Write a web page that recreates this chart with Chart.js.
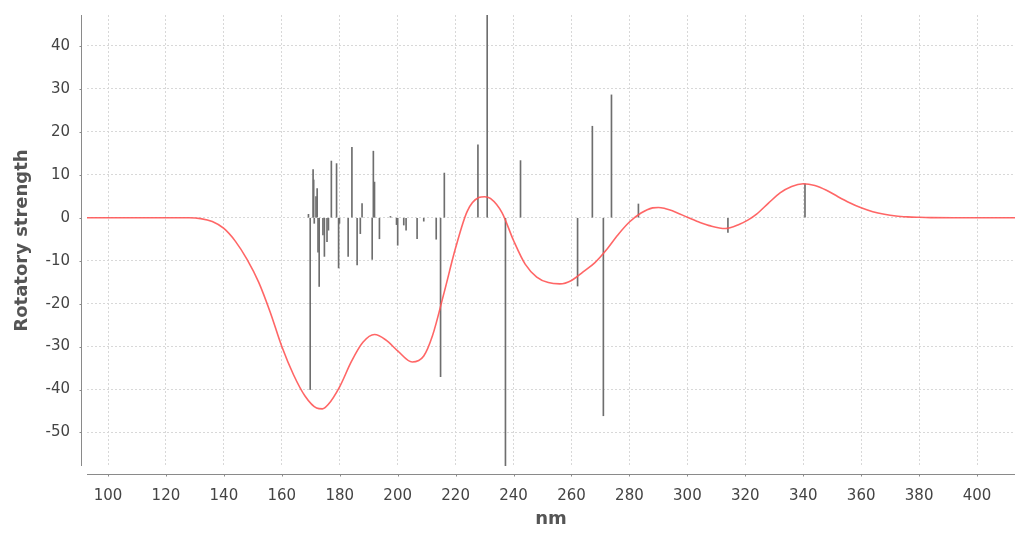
<!DOCTYPE html>
<html>
<head>
<meta charset="utf-8">
<title>Rotatory strength</title>
<script src="https://cdn.jsdelivr.net/npm/chart.js@4/dist/chart.umd.min.js"></script>
<style>
  html, body { margin: 0; padding: 0; background: #fff; }
  #wrap { width: 1015px; height: 534px; }
</style>
</head>
<body>
<div id="wrap"><canvas id="cd" width="1015" height="534"></canvas></div>
<script>
// stick spectrum: transition wavelength (nm) and rotatory strength
const stickNm = [
  169.2, 169.8, 170.8, 171.0, 171.2, 171.8, 172.2, 172.5, 172.9, 174.2,
  174.7, 175.6, 176.1, 177.1, 178.9, 179.6, 179.9, 182.9, 184.2, 186.0,
  187.1, 187.7, 191.2, 191.6, 192.0, 193.7, 197.5, 199.6, 200.0, 202.1,
  202.9, 206.7, 209.0, 213.3, 214.8, 216.1, 227.7, 230.9, 237.2, 242.4,
  262.1, 267.2, 271.0, 273.8, 283.1, 314.0, 340.6
];
const stickStrength = [
  0.8, -40.0, 11.2, 8.8, -1.3, 4.9, 6.8, -8.0, -16.0, -4.0,
  -9.0, -5.6, -2.9, 13.2, 12.6, -11.7, -1.3, -9.0, 16.4, -11.0,
  -3.7, 3.3, -9.7, 15.5, 8.3, -4.9, 0.3, -1.6, -6.4, -1.7,
  -2.9, -4.9, -0.8, -5.0, -37.0, 10.4, 17.0, 47.2, -57.8, 13.3,
  -15.9, 21.3, -46.1, 28.6, 3.2, -3.4, 7.9
];

// broadened spectrum
const curveNm = [
  92.7, 108, 120, 128, 132, 136, 140, 144, 148, 152,
  156, 160, 164, 168, 172, 174, 176, 180, 184, 188,
  192, 196, 200, 205, 209, 212, 216, 220, 224,
  228, 230, 232, 236, 240, 244, 248, 252, 256, 260,
  264, 268, 272, 276, 280, 284, 288, 290, 292, 296,
  300, 304, 308, 313, 318, 321, 324, 328, 332,
  336, 340, 344, 348, 352, 356, 360, 364, 368, 372,
  376, 380, 384, 392, 413.1
];
const curveVal = [
  0, 0, 0, 0, -0.2, -0.9, -2.5, -5.5, -9.7, -15,
  -22, -30, -36.5, -41.5, -44.3, -44.5, -43.5, -39.3, -33.5, -29,
  -27.2, -28.5, -31, -33.6, -32.2, -27.5, -17.5, -7, 1.5,
  4.7, 4.9, 4.5, 1.2, -5.3, -10.8, -13.8, -15.1, -15.4, -14.6,
  -12.6, -10.5, -7.5, -4.0, -1.0, 1.1, 2.3, 2.4, 2.2, 1.3,
  0.1, -1.0, -1.9, -2.5, -1.5, -0.5, 0.9, 3.4, 5.8,
  7.3, 7.9, 7.5, 6.4, 4.9, 3.5, 2.3, 1.4, 0.8, 0.4,
  0.2, 0.1, 0.03, 0, 0
];

// tick values
const xTicks = [100, 120, 140, 160, 180, 200, 220, 240, 260, 280, 300, 320, 340, 360, 380, 400];
const yTicks = [-50, -40, -30, -20, -10, 0, 10, 20, 30, 40];

const xMin = 92.75, xMax = 413.1;
const yMin = -57.8, yMax = 47.2;

Chart.defaults.font.family = '"DejaVu Sans", Verdana, sans-serif';

// JFreeChart-style axis lines, set a few pixels away from the plot
const axisLines = {
  id: 'axisLines',
  afterDraw(chart) {
    const { ctx, chartArea: a, scales } = chart;
    const xl = a.left - 5.5, yl = a.bottom + 8.5;
    ctx.save();
    ctx.strokeStyle = '#8a8a8a';
    ctx.lineWidth = 1;
    ctx.beginPath();
    ctx.moveTo(xl, a.top);
    ctx.lineTo(xl, a.bottom);
    ctx.moveTo(a.left, yl);
    ctx.lineTo(a.right, yl);
    scales.y.ticks.forEach(t => {
      const p = Math.round(scales.y.getPixelForValue(t.value)) + 0.5;
      ctx.moveTo(xl - 2, p);
      ctx.lineTo(xl, p);
    });
    scales.x.ticks.forEach(t => {
      const p = Math.round(scales.x.getPixelForValue(t.value)) + 0.5;
      ctx.moveTo(p, yl);
      ctx.lineTo(p, yl + 2);
    });
    ctx.stroke();
    ctx.restore();
  }
};

const gridStyle = { color: '#d8d8d8', lineWidth: 1, drawTicks: false };

new Chart(document.getElementById('cd'), {
  type: 'bar',
  data: {
    datasets: [
      {
        type: 'line',
        label: 'CD',
        data: curveNm.map((x, i) => ({ x, y: curveVal[i] })),
        borderColor: 'rgba(255, 85, 85, 0.9)',
        borderWidth: 1.6,
        pointRadius: 0,
        fill: false,
        cubicInterpolationMode: 'monotone',
        order: 0
      },
      {
        type: 'bar',
        label: 'R',
        data: stickNm.map((x, i) => ({ x, y: stickStrength[i] })),
        backgroundColor: '#6e6e6e',
        borderWidth: 0,
        barThickness: 1,
        order: 1
      }
    ]
  },
  options: {
    responsive: false,
    animation: false,
    layout: { padding: { top: 15, right: 0, left: 0, bottom: 0 } },
    plugins: {
      legend: { display: false },
      tooltip: { enabled: false }
    },
    scales: {
      x: {
        type: 'linear',
        min: xMin,
        max: xMax,
        offset: false,
        border: { display: false, dash: [2, 2] },
        grid: Object.assign({ offset: false }, gridStyle),
        ticks: {
          padding: 21,
          maxRotation: 0,
          autoSkip: false,
          color: '#444',
          font: { size: 15 }
        },
        afterBuildTicks(scale) { scale.ticks = xTicks.map(v => ({ value: v })); },
        title: {
          display: true,
          text: 'nm',
          color: '#555',
          font: { size: 18, weight: 'bold' },
          padding: { top: 0, bottom: 4 }
        },
        afterFit(scale) {
          scale.height = 68;
          scale.paddingLeft = 0;
          scale.paddingRight = 0;
        }
      },
      y: {
        min: yMin,
        max: yMax,
        border: { display: false, dash: [2, 2] },
        grid: gridStyle,
        ticks: {
          padding: 17,
          autoSkip: false,
          color: '#444',
          font: { size: 15 }
        },
        afterBuildTicks(scale) { scale.ticks = yTicks.map(v => ({ value: v })); },
        title: {
          display: true,
          text: 'Rotatory strength',
          color: '#555',
          font: { size: 18, weight: 'bold' },
          padding: { top: 12, bottom: 0 }
        },
        afterFit(scale) {
          scale.width = 87;
          scale.paddingTop = 0;
          scale.paddingBottom = 0;
        }
      }
    }
  },
  plugins: [axisLines]
});
</script>
</body>
</html>
